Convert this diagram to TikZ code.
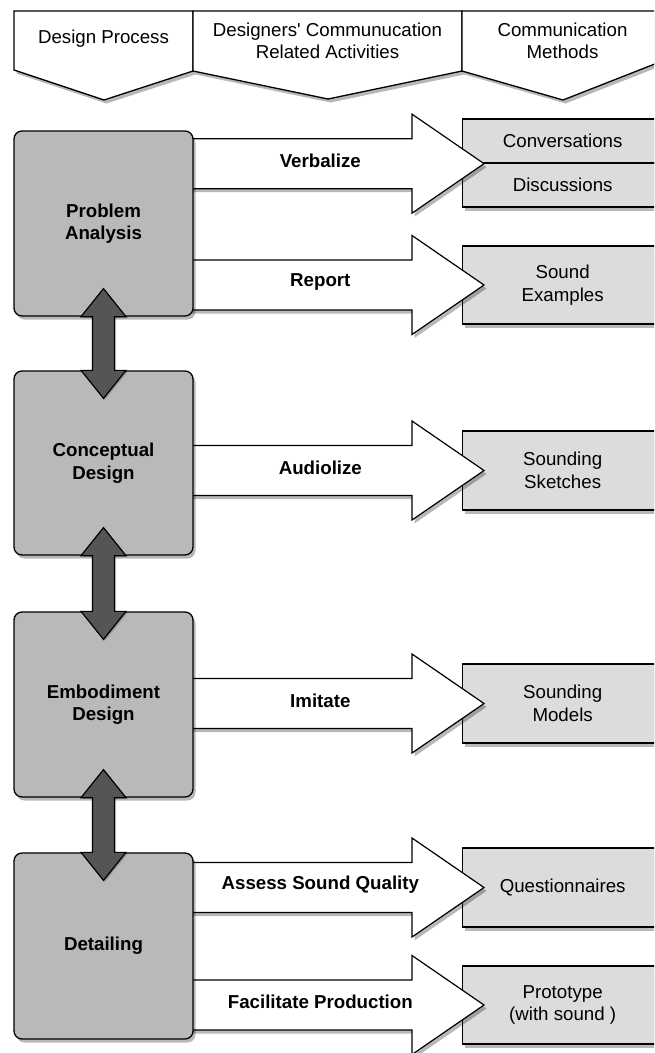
\documentclass[tikz,border=0pt]{standalone}
\usepackage{fontspec}
\setmainfont{Liberation Sans}[Ligatures=TeXOff]
\usetikzlibrary{calc,shadows}
\pgfdeclarelayer{fg}
\pgfsetlayers{main,fg}
\definecolor{phasegray}{HTML}{B9B9B9}
\definecolor{methodgray}{HTML}{DCDCDC}
\definecolor{arrowgray}{HTML}{555555}
\tikzset{
  every node/.style={font=\fontsize{18.7}{22.4}\selectfont, align=center, inner sep=0pt},
  shad/.style={drop shadow={shadow xshift=2.5pt, shadow yshift=-3.5pt, fill=black, opacity=0.28}},
  hdr/.style={draw=black, line width=1.3pt, fill=white, shad, line join=miter},
  phase/.style={draw=black, line width=1.3pt, fill=phasegray, rounded corners=8pt,
    minimum width=179pt, minimum height=185pt,
    font=\bfseries\fontsize{18.7}{22.4}\selectfont, shad},
  method/.style={draw=black, line width=1.3pt, fill=methodgray, minimum width=200pt, anchor=west, shad},
  bigarr/.style={draw=black, line width=1.2pt, fill=white, shad, line join=miter},
  dblarr/.style={draw=black, line width=1.2pt, fill=arrowgray, line join=miter,
    drop shadow={shadow xshift=1.5pt, shadow yshift=-1.5pt, fill=black, opacity=0.2}},
  lab/.style={font=\bfseries\fontsize{18.7}{22.4}\selectfont},
}
\newcommand\bigarrow[4]{%
  \draw[bigarr] ($(#1.east|-#2)+(-4,-25)$) -- ($(#2)+(-50,-25)$) -- ($(#2)+(-50,-49.5)$)
    -- ($(#2)+(22,0)$) -- ($(#2)+(-50,49.5)$) -- ($(#2)+(-50,25)$) -- ($(#1.east|-#2)+(-4,25)$);
  \node[lab] (#3) at ($(#1.east|-#2)!0.5!(#2)+(-7.5,-3)$) {#4};
}
\newcommand\dblarrow[2]{%
  \draw[dblarr] ($(#1.south)+(-11,0)$) -- ($(#1.south)+(-22.5,0)$) -- ($(#1.south)+(0,-28)$)
    -- ($(#1.south)+(22.5,0)$) -- ($(#1.south)+(11,0)$) -- ($(#2.north)+(11,0)$)
    -- ($(#2.north)+(22.5,0)$) -- ($(#2.north)+(0,28)$) -- ($(#2.north)+(-22.5,0)$)
    -- ($(#2.north)+(-11,0)$) -- cycle;
}
\begin{document}
\begin{tikzpicture}[x=1pt,y=-1pt]
\useasboundingbox (0,0) rectangle (654,1053);
\fill[white] (0,0) rectangle (654,1053);
\begin{scope}
\clip (0,0) rectangle (654,1053);
% header
\draw[hdr] (14,11) -- (193,11) -- (193,71) -- (104,100) -- (14,70) -- cycle;
\draw[hdr] (193,11) -- (462,11) -- (462,71) -- (328,99) -- (193,71) -- cycle;
\draw[hdr] (462,11) -- (670,11) -- (670,58) -- (563,100) -- (462,71) -- cycle;
\node (h1) at (103.5,39) {Design Process};
\node (h2) at (327.5,41) {Designers' Communucation\\Related Activities};
\node (h3) at (562.5,41) {Communication\\Methods};
% communication methods
\node[method, minimum height=44pt] (conv) at (462,141) {Conversations};
\node[method, minimum height=44pt] (disc) at (462,185) {Discussions};
\node[method, minimum height=78pt] (snd) at (462,285) {Sound\\Examples};
\node[method, minimum height=79pt] (skt) at (462,470.5) {Sounding\\Sketches};
\node[method, minimum height=79pt] (mdl) at (462,703.5) {Sounding\\Models};
\node[method, minimum height=79pt] (qst) at (462,887.5) {Questionnaires};
\node[method, minimum height=78pt] (pro) at (462,1005) {Prototype\\(with sound )};
% design process phases
\begin{pgfonlayer}{fg}
\node[phase] (pa) at (103.5,223.5) {Problem\\Analysis};
\node[phase, minimum height=184pt] (cd) at (103.5,463) {Conceptual\\Design};
\node[phase] (ed) at (103.5,704.5) {Embodiment\\Design};
\node[phase, minimum height=186pt] (dt) at (103.5,946) {Detailing};
\dblarrow{pa}{cd}
\dblarrow{cd}{ed}
\dblarrow{ed}{dt}
\end{pgfonlayer}
% activities
\bigarrow{pa}{conv.south west}{verb}{Verbalize}
\bigarrow{pa}{snd.west}{rep}{Report}
\bigarrow{cd}{skt.west}{aud}{Audiolize}
\bigarrow{ed}{mdl.west}{imi}{Imitate}
\bigarrow{dt}{qst.west}{ass}{Assess Sound Quality}
\bigarrow{dt}{pro.west}{fac}{Facilitate Production}
\end{scope}
\end{tikzpicture}
\end{document}
